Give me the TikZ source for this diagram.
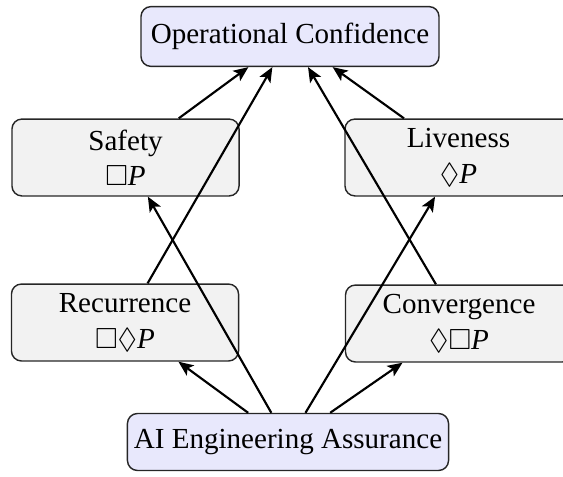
\documentclass[tikz,border=0pt]{standalone}
\usepackage{amssymb}
\usepackage{fontspec}
\setmainfont{Liberation Serif}
\usetikzlibrary{arrows.meta}
\definecolor{lav}{HTML}{E8E8FC}
\definecolor{lgray}{HTML}{F2F2F2}
\tikzset{
  base/.style={draw=black!85, line width=0.5pt, rounded corners=3.5pt, align=center, inner sep=0pt, font=\fontsize{10.2}{12.4}\selectfont},
  bluebox/.style={base, fill=lav},
  graybox/.style={base, fill=lgray, minimum width=79.7pt, minimum height=27pt},
  arr/.style={-{Stealth[length=5.2pt,width=4.4pt,inset=1.2pt]}, line width=0.75pt}
}
\begin{document}
\begin{tikzpicture}[x=0.351pt, y=-0.351pt]
\useasboundingbox (0,0) rectangle (563,476);
\node[bluebox, minimum width=104.6pt, minimum height=21pt] (top) at (290,36.5) {Operational Confidence};
\node[graybox] (saf) at (125.5,157.5) {Safety\\$\Box$\textit{P}};
\node[graybox] (liv) at (458.5,157.5) {Liveness\\$\Diamond$\textit{P}};
\node[graybox] (rec) at (125,322.5) {Recurrence\\$\Box\Diamond$\textit{P}};
\node[graybox] (con) at (459,323.5) {Convergence\\$\Diamond\Box$\textit{P}};
\node[bluebox, minimum width=112.7pt, minimum height=20pt] (ai) at (288,442) {AI Engineering Assurance};
\draw[arr] (saf) -- (top);
\draw[arr] (rec) -- (top);
\draw[arr] (liv) -- (top);
\draw[arr] (con) -- (top);
\draw[arr] (ai) -- (rec);
\draw[arr] (ai) -- (saf);
\draw[arr] (ai) -- (liv);
\draw[arr] (ai) -- (con);
\end{tikzpicture}
\end{document}
